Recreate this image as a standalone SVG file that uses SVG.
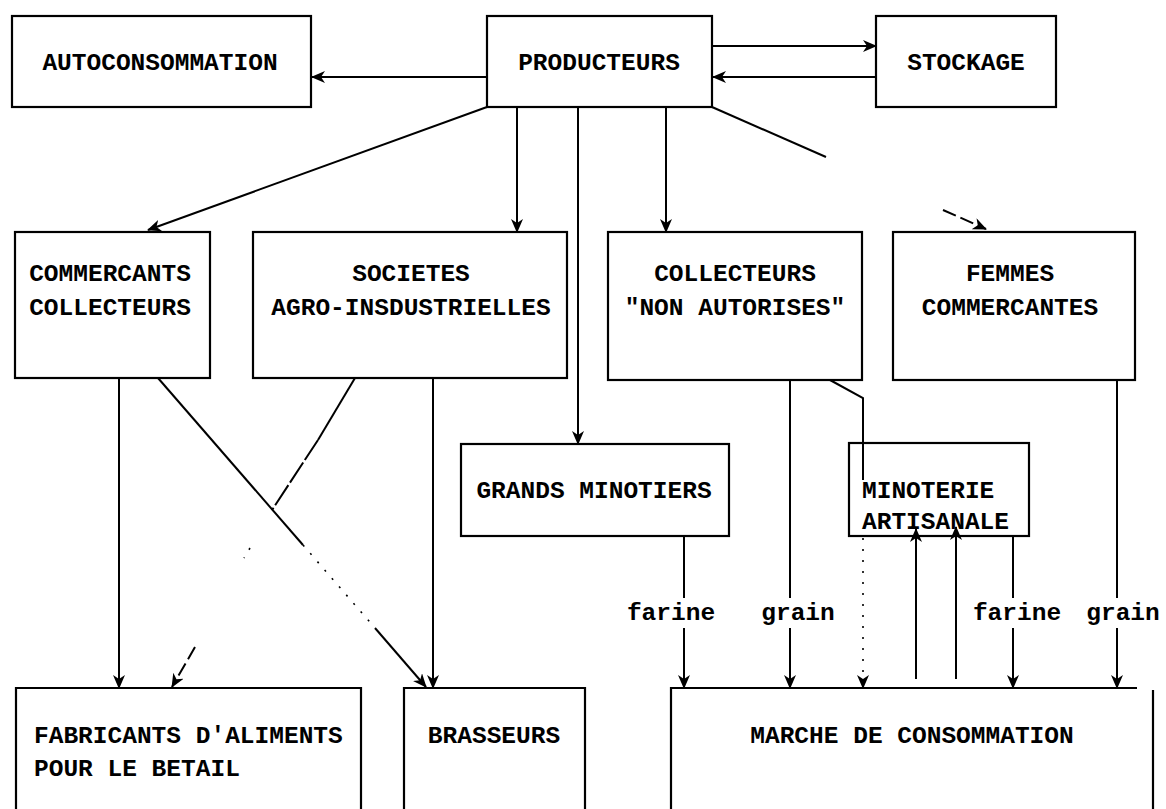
<svg xmlns="http://www.w3.org/2000/svg" width="1166" height="809" viewBox="0 0 1166 809">
<defs>
<marker id="ah" markerUnits="userSpaceOnUse" markerWidth="14" markerHeight="12" viewBox="0 0 14 12" refX="13" refY="6" orient="auto">
<path d="M0,0 L14,6 L0,12 L4,6 z" fill="#000"/>
</marker>
<style>
.box{fill:none;stroke:#000;stroke-width:2.2}
.ln{fill:none;stroke:#000;stroke-width:2}
.arr{fill:none;stroke:#000;stroke-width:2;marker-end:url(#ah)}
.dash{stroke-dasharray:14 5}
.ldash{stroke-dasharray:24 3}
.dot{stroke-dasharray:2 9;stroke-width:1.6}
text{font-family:"Liberation Mono","Courier New",monospace;font-weight:bold;font-size:24.5px;fill:#000}
.c{text-anchor:middle}
</style>
</defs>
<rect width="1166" height="809" fill="#fff"/>

<g id="connectors">
<line class="arr" x1="487" y1="77" x2="312" y2="77"/>
<line class="arr" x1="712" y1="46" x2="876" y2="46"/>
<line class="arr" x1="876" y1="77" x2="713" y2="77"/>
<line class="arr" x1="487" y1="107" x2="148" y2="230"/>
<line class="arr" x1="517" y1="107" x2="517" y2="232"/>
<line class="arr" x1="578" y1="107" x2="578" y2="444"/>
<line class="arr" x1="666" y1="107" x2="666" y2="232"/>
<line class="ln" x1="712" y1="107" x2="826" y2="157"/>
<line class="arr dash" x1="943" y1="210" x2="986" y2="229"/>
<line class="arr" x1="119" y1="378" x2="119" y2="688"/>
<line class="ln" x1="158" y1="378" x2="303" y2="545"/>
<line class="ln dot" x1="303" y1="545" x2="375" y2="628"/>
<line class="arr" x1="375" y1="628" x2="426" y2="687"/>
<line class="arr" x1="433" y1="378" x2="433" y2="688"/>
<line class="ln" x1="355" y1="378" x2="318" y2="440"/>
<line class="ln ldash" x1="318" y1="440" x2="272" y2="510"/>
<line class="ln dot" x1="250" y1="548" x2="244" y2="558"/>
<line class="arr dash" x1="195" y1="647" x2="172" y2="687"/>
<line class="ln" x1="684" y1="536" x2="684" y2="598"/>
<line class="arr" x1="684" y1="628" x2="684" y2="688"/>
<line class="ln" x1="790" y1="380" x2="790" y2="598"/>
<line class="arr" x1="790" y1="628" x2="790" y2="688"/>
<polyline class="ln" points="830,380 863,398 863,480"/>
<line class="arr dot" x1="863" y1="538" x2="863" y2="688"/>
<line class="arr" x1="916" y1="679" x2="916" y2="529"/>
<line class="arr" x1="956" y1="679" x2="956" y2="527"/>
<line class="ln" x1="1013" y1="536" x2="1013" y2="598"/>
<line class="arr" x1="1013" y1="628" x2="1013" y2="688"/>
<line class="ln" x1="1117" y1="380" x2="1117" y2="598"/>
<line class="arr" x1="1117" y1="628" x2="1117" y2="688"/>
<text x="671" y="620" class="c">farine</text>
<text x="798" y="620" class="c">grain</text>
<text x="1017" y="620" class="c">farine</text>
<text x="1123" y="620" class="c">grain</text>
</g>

<g id="autoconsommation">
<rect class="box" x="12" y="16" width="299" height="91"/>
<text x="160" y="70" class="c">AUTOCONSOMMATION</text>
</g>
<g id="producteurs">
<rect class="box" x="487" y="16" width="225" height="91"/>
<text x="599" y="70" class="c">PRODUCTEURS</text>
</g>
<g id="stockage">
<rect class="box" x="876" y="16" width="180" height="91"/>
<text x="966" y="70" class="c">STOCKAGE</text>
</g>
<g id="commercants">
<rect class="box" x="15" y="232" width="195" height="146"/>
<text x="110" y="281" class="c">COMMERCANTS</text>
<text x="110" y="315" class="c">COLLECTEURS</text>
</g>
<g id="societes">
<rect class="box" x="253" y="232" width="314" height="146"/>
<text x="411" y="281" class="c">SOCIETES</text>
<text x="411" y="315" class="c">AGRO-INSDUSTRIELLES</text>
</g>
<g id="collecteurs">
<rect class="box" x="608" y="232" width="254" height="148"/>
<text x="735" y="281" class="c">COLLECTEURS</text>
<text x="735" y="315" class="c">"NON AUTORISES"</text>
</g>
<g id="femmes">
<rect class="box" x="893" y="232" width="242" height="148"/>
<text x="1010" y="281" class="c">FEMMES</text>
<text x="1010" y="315" class="c">COMMERCANTES</text>
</g>
<g id="grands-minotiers">
<rect class="box" x="461" y="444" width="268" height="92"/>
<text x="594" y="498" class="c">GRANDS MINOTIERS</text>
</g>
<g id="minoterie">
<rect class="box" x="849" y="443" width="180" height="93"/>
<text x="862" y="498">MINOTERIE</text>
<text x="862" y="529">ARTISANALE</text>
</g>
<g id="fabricants">
<polyline class="box" points="16,812 16,688 361,688 361,812"/>
<text x="34" y="743">FABRICANTS D'ALIMENTS</text>
<text x="34" y="776">POUR LE BETAIL</text>
</g>
<g id="brasseurs">
<polyline class="box" points="404,812 404,688 585,688 585,812"/>
<text x="494" y="743" class="c">BRASSEURS</text>
</g>
<g id="marche">
<polyline class="box" points="671,812 671,688 1137,688"/>
<line class="box" x1="1153" y1="690" x2="1153" y2="812"/>
<text x="912" y="743" class="c">MARCHE DE CONSOMMATION</text>
</g>
</svg>
